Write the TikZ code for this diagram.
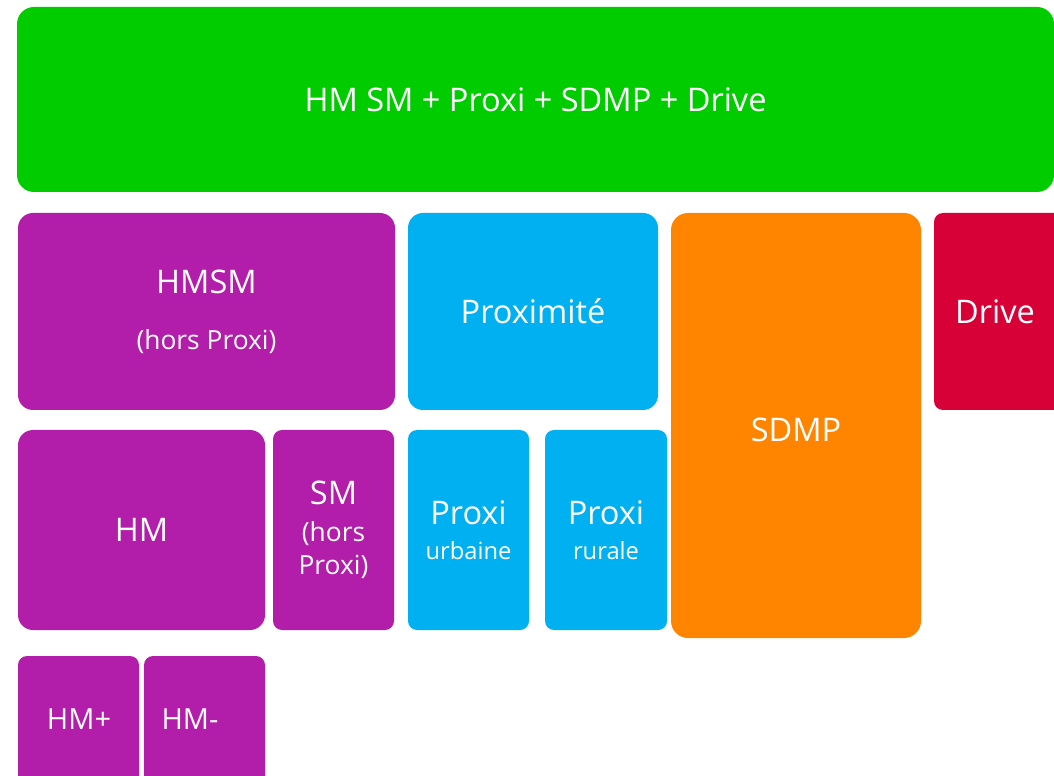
\documentclass[tikz,border=0pt]{standalone}
\usepackage{fontspec}
\setmainfont{Open Sans}
\usepackage{xcolor}
\usepackage{tikz}
\usetikzlibrary{fit}

\definecolor{vertG}{RGB}{0,204,0}
\definecolor{violetG}{RGB}{178,30,170}
\definecolor{bleuG}{RGB}{0,176,240}
\definecolor{orangeG}{RGB}{255,133,0}
\definecolor{rougeG}{RGB}{215,0,55}

\newcommand{\moyen}{\fontsize{15}{17.5}\selectfont}
\newcommand{\petittxt}{\fontsize{13.5}{16}\selectfont}

\tikzset{
  bloc/.style={rectangle, inner sep=0pt, outer sep=0pt, rounded corners=0.3cm},
  petit/.style={bloc, rounded corners=0.18cm},
  texte/.style={text=white, align=center, inner sep=0pt, font=\fontsize{18.5}{22}\selectfont},
}

\begin{document}
\begin{tikzpicture}[x=0.02cm, y=-0.02cm]
    \useasboundingbox (0,0) rectangle (1054,776);

    % Ligne du haut
    \node[bloc, fill=vertG, rounded corners=0.34cm, fit={(17,7) (1054,192)}] (total) {};
    \node[texte] (totaltxt) at (total.center) {HM SM + Proxi + SDMP + Drive};

    % Deuxième niveau
    \node[bloc, fill=violetG, fit={(18,213) (395,410)}] (hmsm) {};
    \node[texte] (hmsmtxt) at (hmsm.center)
        {HMSM\\[10pt]{\moyen (hors Proxi)}};
    \node[bloc, fill=bleuG, fit={(408,213) (658,410)}] (proxi) {};
    \node[texte] (proxitxt) at (proxi.center) {Proximité};
    \node[bloc, fill=orangeG, rounded corners=0.34cm, fit={(671,213) (921,638)}] (sdmp) {};
    \node[texte] (sdmptxt) at ([yshift=-0.08cm]sdmp.center) {SDMP};
    \node[petit, fill=rougeG, fit={(934,213) (1066,410)}] (drive) {};
    \node[texte] (drivetxt) at (995,312) {Drive};

    % Troisième niveau
    \node[bloc, fill=violetG, fit={(18,430) (265,630)}] (hm) {};
    \node[texte] (hmtxt) at (hm.center) {HM};
    \node[petit, fill=violetG, fit={(273,430) (394,630)}] (sm) {};
    \node[texte] (smtxt) at (sm.center)
        {SM\\[-1pt]{\moyen (hors}\\[-3pt]{\moyen Proxi)}};
    \node[petit, fill=bleuG, fit={(408,430) (529,630)}] (urbaine) {};
    \node[texte] (urbainetxt) at (urbaine.center)
        {Proxi\\[-2pt]{\petittxt urbaine}};
    \node[petit, fill=bleuG, fit={(545,430) (667,630)}] (rurale) {};
    \node[texte] (ruraletxt) at (rurale.center)
        {Proxi\\[-2pt]{\petittxt rurale}};

    % Quatrième niveau
    \node[petit, fill=violetG, fit={(18,656) (139,790)}] (hmplus) {};
    \node[texte, font=\fontsize{16.5}{20}\selectfont] (hmplustxt) at (79,719) {HM+};
    \node[petit, fill=violetG, fit={(144,656) (265,790)}] (hmmoins) {};
    \node[texte, font=\fontsize{16.5}{20}\selectfont] (hmmoinstxt) at (190,719) {HM-};
\end{tikzpicture}
\end{document}
